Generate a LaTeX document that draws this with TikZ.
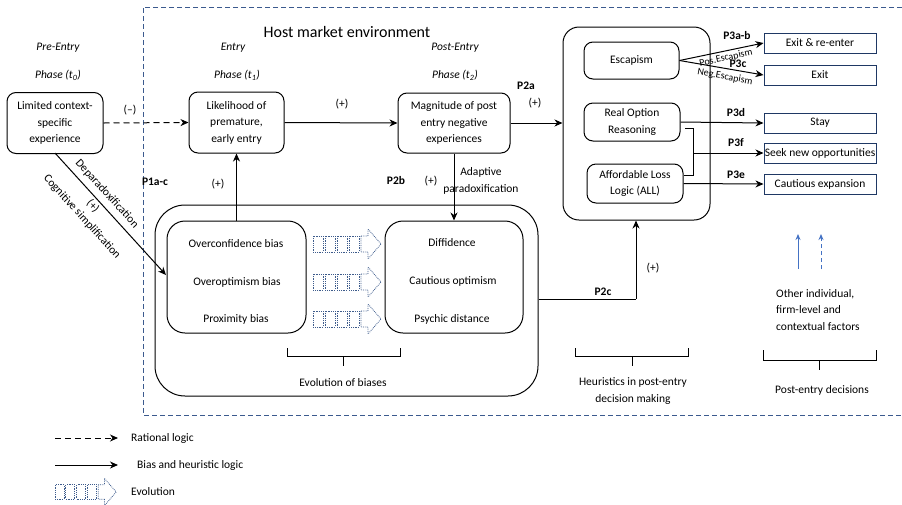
\documentclass[tikz,border=0pt]{standalone}
\usepackage{fontspec}
\setmainfont{Carlito}
\usetikzlibrary{arrows.meta}
\definecolor{hostblue}{HTML}{3B5A8E}
\definecolor{outblue}{HTML}{1F3864}
\definecolor{evoblue}{HTML}{3E5C8C}
\definecolor{factblue}{HTML}{4472C4}
\begin{document}
\begin{tikzpicture}[x=1pt,y=-1pt,
  font=\fontsize{11.5}{16.5}\selectfont,
  box/.style={draw, rounded corners=9pt, line width=1pt, align=center, inner sep=0pt},
  outbox/.style={draw=outblue, line width=1pt, align=center, inner sep=0pt, minimum width=112pt, minimum height=20pt},
  arr/.style={line width=1pt, -{Stealth[length=8pt,width=7pt,inset=2.5pt]}},
  ln/.style={line width=1pt},
  darr/.style={arr, dash pattern=on 6pt off 4pt},
  hostdash/.style={draw=hostblue, line width=1pt, dash pattern=on 5pt off 3pt},
  lbl/.style={inner sep=1pt},
  plbl/.style={inner sep=1pt, font=\fontsize{11.5}{13}\selectfont\bfseries},
  phase/.style={inner sep=1pt, font=\fontsize{11.5}{13}\selectfont\itshape},
  brace/.style={line width=1pt},
  evoarrow/.pic={
    \draw[evoblue, densely dotted, line width=0.8pt]
      (0,-8) rectangle (10,8) (12,-8) rectangle (22,8) (24,-8) rectangle (34,8) (36,-8) rectangle (46,8);
    \draw[evoblue, densely dotted, line width=0.8pt]
      (48,-8) -- (55,-8) -- (55,-15) -- (68,0) -- (55,15) -- (55,8) -- (48,8) -- cycle;
  }
]
\useasboundingbox (0,0) rectangle (902,504);

% host environment dashed frame
\draw[hostdash] (902,7) -- (143,7) -- (143,415) -- (902,415);
\node[lbl, font=\fontsize{16}{18}\selectfont] (host) at (347,32) {Host market environment};

% phase labels
\node[phase] (pre1) at (58,48) {Pre-Entry};
\node[phase] (pre2) at (58,75) {Phase (t\textsubscript{0})};
\node[phase] (ent1) at (233,48) {Entry};
\node[phase] (ent2) at (237,75) {Phase (t\textsubscript{1})};
\node[phase] (post1) at (455,48) {Post-Entry};
\node[phase] (post2) at (455,75) {Phase (t\textsubscript{2})};

% main boxes
\node[box, minimum width=96pt, minimum height=61pt] (lim) at (55,123) {Limited context-\\specific\\experience};
\node[box, minimum width=95pt, minimum height=61pt] (like) at (236.5,122.5) {Likelihood of\\premature,\\early entry};
\node[box, minimum width=112pt, minimum height=60pt] (mag) at (454,123) {Magnitude of post\\entry negative\\experiences};

% heuristics frame
\node[box, rounded corners=16pt, minimum width=147pt, minimum height=193pt] (heur) at (636.5,123.5) {};
\node[box, minimum width=95pt, minimum height=37pt] (esc) at (631.5,60.5) {Escapism};
\node[box, minimum width=96pt, minimum height=38pt] (ror) at (632,122) {Real Option\\Reasoning};
\node[box, minimum width=96pt, minimum height=39pt] (all) at (635,183.5) {Affordable Loss\\Logic (ALL)};

% outcome boxes
\node[outbox] (exre) at (820,43) {Exit \& re-enter};
\node[outbox] (exit) at (820,75) {Exit};
\node[outbox] (stay) at (820,123) {Stay};
\node[outbox] (seek) at (820,153) {Seek new opportunities};
\node[outbox] (caut) at (820,184) {Cautious expansion};

% biases frame
\node[box, rounded corners=30pt, minimum width=383pt, minimum height=191pt] (bias) at (346.5,300.5) {};
\node[box, rounded corners=18pt, minimum width=139pt, minimum height=112pt] (lbias) at (236.5,277) {};
\node[box, rounded corners=18pt, minimum width=138pt, minimum height=112pt] (rbias) at (454,277) {};
\node[lbl] (oc) at (236,244) {Overconfidence bias};
\node[lbl] (oo) at (237,282) {Overoptimism bias};
\node[lbl] (pb) at (236,319) {Proximity bias};
\node[lbl] (dif) at (452,243) {Diffidence};
\node[lbl] (co) at (453,281) {Cautious optimism};
\node[lbl] (pd) at (452,319) {Psychic distance};
\pic at (313,244) {evoarrow};
\pic at (313,282) {evoarrow};
\pic at (313,319) {evoarrow};

% arrows between main boxes
\draw[darr] (lim.east) -- (like.west);
\node[lbl] (minus) at (130,110) {(–)};
\draw[arr] (like.east) -- (mag.west);
\node[lbl] (plus1) at (342,104) {(+)};
\draw[arr] (mag.east) -- (mag.east -| heur.west);
\node[plbl] (p2a) at (526,86) {P2a};
\node[lbl] (plus2) at (535,103) {(+)};

% biases -> likelihood
\draw[arr] (lbias.north -| like.south) -- (like.south);
\node[lbl] (plus3) at (218,184) {(+)};
\node[plbl] (p1ac) at (155,182) {P1a-c};

% magnitude -> right biases
\draw[arr] (mag.south) -- (mag.south |- rbias.north);
\node[plbl] (p2b) at (396,181) {P2b};
\node[lbl] (plus4) at (431,181) {(+)};
\node[lbl, align=center] (adapt) at (481,181) {Adaptive\\paradoxification};

% limited -> left biases (diagonal)
\coordinate (diagstart) at (55,153);
\coordinate (diagend) at (166,275);
\draw[arr] (diagstart) -- (diagend);
\node[lbl, rotate=-47.7] (deparad) at (107,194) {Deparadoxification};
\node[lbl, rotate=-47.7] (cogsimp) at (82,217) {Cognitive simplification};
\node[lbl, rotate=-47.7] (plus5) at (93,206) {(+)};

% P2c
\coordinate (p2cc) at (636,299);
\draw[ln] (bias.east |- p2cc) -- (p2cc);
\draw[arr] (p2cc) -- (heur.south -| p2cc);
\node[plbl] (p2c) at (603,292) {P2c};
\node[lbl] (plus6) at (653,268) {(+)};

% escapism outcomes
\draw[arr] (esc.east) -- (exre.west);
\draw[arr] (esc.east) -- (exit.west);
\node[plbl] (p3ab) at (737,36) {P3a-b};
\node[plbl] (p3c) at (738,64) {P3c};
\node[lbl, rotate=12, font=\fontsize{10}{11}\selectfont] (pos) at (726,58) {Pos.Escapism};
\node[lbl, rotate=-10, font=\fontsize{10}{11}\selectfont] (neg) at (725,77) {Neg.Escapism};

% real option -> stay
\draw[arr] (ror.east) -- (stay.west);
\node[plbl] (p3d) at (736,113) {P3d};
% bracket -> seek
\coordinate (brtop) at (685,128);
\coordinate (brbot) at (684,175);
\coordinate (brmid) at (693,153);
\draw[ln] (brtop) -- (693,128) -- (693,175) -- (brbot);
\draw[arr] (brmid) -- (seek.west);
\node[plbl] (p3f) at (736,143) {P3f};
% ALL -> cautious
\draw[arr] (all.east) -- (caut.west);
\node[plbl] (p3e) at (736,175) {P3e};

% other factors
\draw[-{Stealth[length=6pt,width=5pt]}, factblue, line width=1pt] (798,269) -- (798,234);
\draw[-{Stealth[length=6pt,width=5pt]}, factblue, line width=1pt, dash pattern=on 4pt off 3pt] (821,269) -- (821,234);
\node[lbl, align=left, anchor=west] (other) at (775,310) {Other individual,\\firm-level and\\contextual factors};

% braces
\draw[brace] (287,348) -- (287,356) -- (400,356) -- (400,348) (343,356) -- (343,366);
\node[lbl] (evob) at (343,383) {Evolution of biases};
\draw[brace] (575,348) -- (575,356) -- (688,356) -- (688,348) (632,356) -- (632,366);
\node[lbl, align=center] (heurlbl) at (633,391) {Heuristics in post-entry\\decision making};
\draw[brace] (763,350) -- (763,360) -- (876,360) -- (876,350) (819,360) -- (819,370);
\node[lbl] (pedec) at (822,390) {Post-entry decisions};

% legend
\coordinate (lg1a) at (55,438);
\coordinate (lg1b) at (118,438);
\draw[darr] (lg1a) -- (lg1b);
\node[lbl, anchor=west] (rat) at (130,438) {Rational logic};
\coordinate (lg2a) at (55,465);
\coordinate (lg2b) at (118,465);
\draw[arr] (lg2a) -- (lg2b);
\node[lbl, anchor=west] (bhl) at (136,465) {Bias and heuristic logic};
\pic[scale=0.9] at (55,492) {evoarrow};
\node[lbl, anchor=west] (evl) at (130,492) {Evolution};
\end{tikzpicture}
\end{document}
